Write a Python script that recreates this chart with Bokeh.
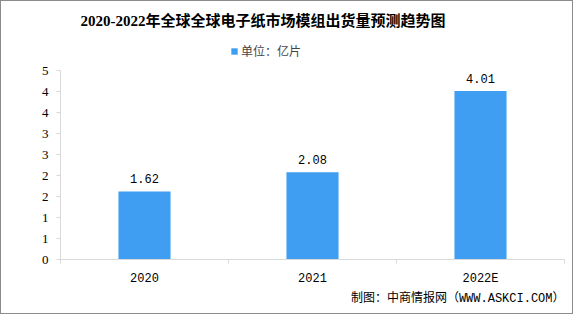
from bokeh.plotting import figure
from bokeh.models import (Range1d, FixedTicker, Title, Legend, LegendItem,
                          ColumnDataSource, LabelSet, Label)
from bokeh.core.properties import value
from bokeh.embed import file_html
from bokeh.resources import INLINE

# ---- data ----
categories = ["2020", "2021", "2022E"]
values = [1.62, 2.08, 4.01]
value_labels = ["1.62", "2.08", "4.01"]
y_ticks = [0, 0.5, 1, 1.5, 2, 2.5, 3, 3.5, 4, 4.5]
y_tick_labels = ["0", "1", "1", "2", "2", "3", "3", "4", "4", "5"]
title_text = "2020-2022年全球全球电子纸市场模组出货量预测趋势图"
legend_text = "单位：亿片"
source_text = "制图：中商情报网（WWW.ASKCI.COM）"

TITLE_FONT = "'Liberation Serif', 'Noto Sans CJK SC'"
MIX = "'Liberation Mono', 'Noto Sans CJK SC'"
BAR = "#3f9ef2"
AX = "#d9d9d9"

xs = [i + 0.5 for i in range(len(categories))]
src = ColumnDataSource(dict(x=xs, top=values, lab=value_labels))

# the value axis spans 4.5 units over 189 px; the frame runs up to the canvas
# top so that the title and legend can sit inside it
FRAME_H = 258
Y_END = 4.5 * FRAME_H / 189
p = figure(width=573, height=314, x_range=Range1d(0, len(categories)),
           y_range=Range1d(0, Y_END), output_backend="svg",
           toolbar_location=None,
           min_border_left=59, min_border_right=10, min_border_top=0,
           min_border_bottom=56, background_fill_color="white",
           border_fill_color="white")
p.styles = {"border": "1px solid #8c8c8c"}
p.outline_line_color = None
p.xgrid.visible = False
p.ygrid.visible = False

r = p.vbar(x="x", top="top", width=0.31, source=src, fill_color=BAR,
           line_color=None)

p.add_layout(LabelSet(x="x", y="top", text="lab", source=src,
                      text_align="center", text_baseline="bottom", y_offset=8,
                      text_font=value("Liberation Mono"), text_font_size=value("12px"),
                      text_color="black"))

# y axis
ya = p.yaxis[0]
ya.ticker = FixedTicker(ticks=y_ticks)
ya.bounds = (0, 4.5)
ya.major_label_overrides = {t: l for t, l in zip(y_ticks, y_tick_labels)}
ya.axis_line_color = AX
ya.major_tick_line_color = AX
ya.major_tick_in = 0
ya.major_tick_out = 4
ya.minor_tick_line_color = None
ya.major_label_standoff = 8
ya.major_label_text_font = "Liberation Serif"
ya.major_label_text_font_size = "13px"
ya.major_label_text_color = "black"

# x axis
xa = p.xaxis[0]
xa.ticker = FixedTicker(ticks=xs, minor_ticks=list(range(len(categories) + 1)))
xa.major_label_overrides = {t: c for t, c in zip(xs, categories)}
xa.axis_line_color = AX
xa.major_tick_line_color = None
xa.minor_tick_line_color = AX
xa.minor_tick_in = 0
xa.minor_tick_out = 4
xa.major_label_standoff = 6
xa.major_label_text_font = "Liberation Mono"
xa.major_label_text_font_size = "12px"
xa.major_label_text_color = "black"

legend = Legend(items=[LegendItem(label=legend_text, renderers=[r])],
                orientation="horizontal", location=(170, 200),
                border_line_alpha=0, background_fill_alpha=0,
                glyph_width=8, glyph_height=8, label_text_font="Noto Sans CJK SC",
                label_text_font_size="12px", label_standoff=3, padding=0,
                margin=0, label_height=14)
p.add_layout(legend)

p.add_layout(Label(x=0, y=Y_END, x_offset=20, y_offset=-19, text=title_text,
                   text_align="left", text_baseline="middle", text_font=TITLE_FONT,
                   text_font_size="15px", text_font_style="bold",
                   text_color="black"))

p.add_layout(Title(text=source_text, align="right", text_font=MIX,
                   text_font_size="12px", text_font_style="normal",
                   text_color="black", standoff=2), "below")

open("out.html", "w").write(file_html(p, INLINE))
